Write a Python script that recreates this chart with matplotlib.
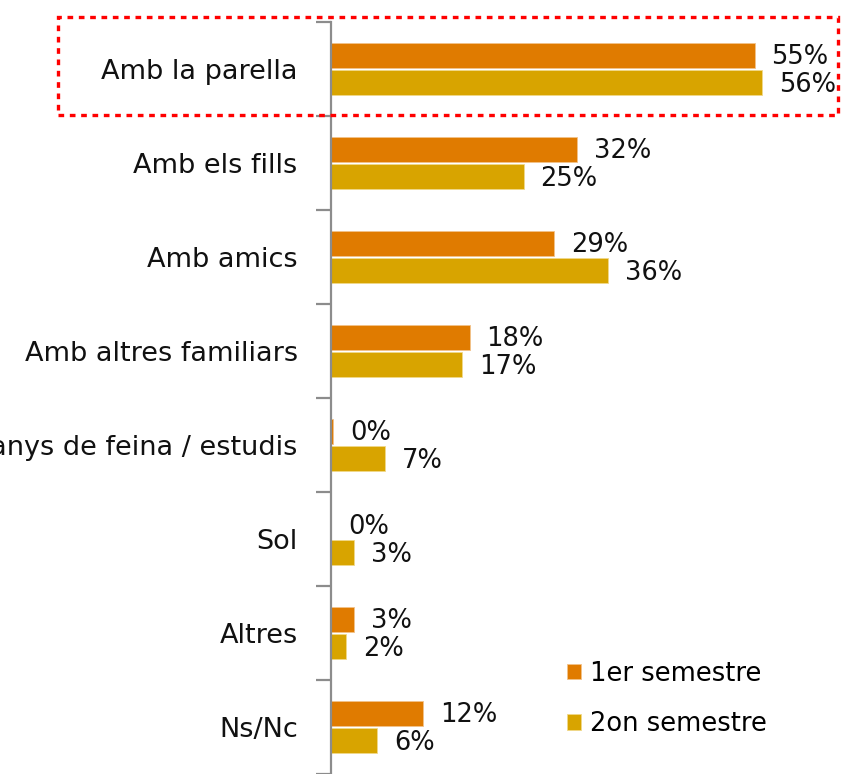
import matplotlib
matplotlib.use("Agg")
import matplotlib.pyplot as plt
from matplotlib.patches import Rectangle

# data (percent)
categories = ["Amb la parella", "Amb els fills", "Amb amics", "Amb altres familiars",
              "Amb companys de feina / estudis", "Sol", "Altres", "Ns/Nc"]
first_sem = [55, 32, 29, 18, 0.3, 0, 3, 12]
second_sem = [56, 25, 36, 17, 7, 3, 2, 6]
series_names = ["1er semestre", "2on semestre"]

ORANGE = "#E07B00"
GOLD = "#D8A400"
AXIS_GRAY = "#8C8C8C"

plt.rcParams["font.family"] = ["DejaVu Sans"]

W, H = 849, 774
fig = plt.figure(figsize=(W / 100, H / 100), dpi=100)
# plot area: axis line at x=331 px, top at y=22 px, bottom at figure edge
ax = fig.add_axes([331 / W, 0.0, 1 - 331 / W, (H - 22) / H])

pos = list(range(len(categories)))
bar_h = 0.27
off = 0.145
ax.barh([p - off for p in pos], first_sem, height=bar_h, color=ORANGE,
        edgecolor="#F2C28A", linewidth=0.6, label=series_names[0])
ax.barh([p + off for p in pos], second_sem, height=bar_h, color=GOLD,
        edgecolor="#F0D98A", linewidth=0.6, label=series_names[1])

# value labels
for p, v1, v2 in zip(pos, first_sem, second_sem):
    ax.annotate(f"{round(v1)}%", (v1, p - off), xytext=(17, -2), textcoords="offset pixels",
                va="center", ha="left", fontsize=18.5, color="#111111", annotation_clip=False)
    ax.annotate(f"{round(v2)}%", (v2, p + off), xytext=(17, -2), textcoords="offset pixels",
                va="center", ha="left", fontsize=18.5, color="#111111", annotation_clip=False)

ax.set_xlim(0, (W - 331) / 7.7)
ax.set_ylim(len(categories) - 0.5, -0.5)

# ticks at category boundaries, labels at centres
ax.set_yticks([i - 0.5 for i in range(len(categories) + 1)])
ax.set_yticklabels([])
ax.tick_params(axis="y", which="major", direction="out", length=11, width=1.6, color=AXIS_GRAY)
ax.set_yticks(pos, minor=True)
ax.set_yticklabels(categories, minor=True, fontsize=19.5, color="#111111")
ax.tick_params(axis="y", which="minor", length=0, pad=24)

ax.xaxis.set_visible(False)
for side in ["top", "right", "bottom"]:
    ax.spines[side].set_visible(False)
ax.spines["left"].set_color(AXIS_GRAY)
ax.spines["left"].set_linewidth(1.6)

leg = fig.legend(loc="upper left", bbox_to_anchor=(554 / W, 1 - 648 / H), frameon=False,
                 fontsize=18.5, handlelength=0.55, handleheight=0.55, handletextpad=0.35,
                 labelspacing=0.95, borderpad=0)

# dotted highlight box around the first category
box = Rectangle((58 / W, 1 - 115 / H), (838 - 58) / W, (115 - 17) / H,
                transform=fig.transFigure, fill=False, edgecolor="#FF0000",
                linewidth=2.4, linestyle=(0, (1.7, 1.7)))
fig.patches.append(box)

fig.savefig("out.png", dpi=100)
